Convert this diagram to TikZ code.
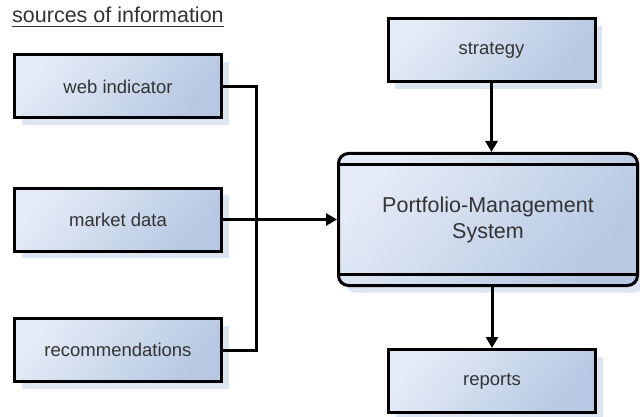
\documentclass[tikz,border=0pt]{standalone}
\usepackage{fontspec}
\setmainfont{Liberation Sans}
\usetikzlibrary{arrows.meta,shadows,calc}
\definecolor{boxlight}{HTML}{E4EBF6}
\definecolor{boxdark}{HTML}{B6C8E2}
\definecolor{shadowblue}{HTML}{DCE5F1}
\definecolor{inktext}{HTML}{333333}
\tikzset{
  sourcebox/.style={draw=black, line width=3pt, inner sep=0pt,
    minimum width=207pt, minimum height=63pt,
    left color=boxlight, right color=boxdark, shading angle=50,
    copy shadow={shadow xshift=7pt, shadow yshift=-7pt, fill=shadowblue, draw=none},
    text=inktext, font=\fontsize{18.5pt}{22pt}\selectfont},
  systembox/.style={draw=black, line width=3pt, inner sep=0pt,
    rounded corners=10pt, minimum width=299pt, minimum height=132pt,
    left color=boxlight, right color=boxdark, shading angle=50,
    copy shadow={shadow xshift=7pt, shadow yshift=-7pt, fill=shadowblue, draw=none},
    text=inktext, align=center, font=\fontsize{21.5pt}{26pt}\selectfont},
  link/.style={draw=black, line width=3pt},
  flow/.style={link, -{Triangle[length=11pt,width=12pt]}},
}
\begin{document}
\begin{tikzpicture}[x=1pt,y=-1pt]
  \useasboundingbox (0,0) rectangle (640,417);

  % heading of the source column
  \node[anchor=base west, inner sep=0pt, text=inktext,
        font=\fontsize{21.5pt}{26pt}\selectfont] (title) at (12,22.5) {sources of information};
  \draw[inktext, line width=1.4pt] ([yshift=-4pt]title.base west) -- ([yshift=-4pt]title.base east);

  % information sources
  \node[sourcebox] (web) at (118,86.5) {web indicator};
  \node[sourcebox] (market) at (118,219.5) {market data};
  \node[sourcebox] (recs) at (118,350) {recommendations};

  % strategy and reports
  \node[sourcebox] (strategy) at (491.5,50.5) {strategy};
  \node[sourcebox] (reports) at (492,381) {reports};

  % central system with header and footer strips
  \node[systembox] (pms) at (488,219.5) {Portfolio-Management\\System};
  \draw[link] ($(pms.north west)+(0,12.5)$) -- ($(pms.north east)+(0,12.5)$);
  \draw[link] ($(pms.south west)+(0,-13)$) -- ($(pms.south east)+(0,-13)$);

  % connectors
  \coordinate (bus) at (256,86.5);
  \draw[link] (web.east) -- (bus) |- (recs.east);
  \draw[flow] (market.east) -- (pms.west);
  \draw[flow] (strategy.south) -- (strategy.south |- pms.north);
  \draw[flow] (pms.south -| reports.north) -- (reports.north);
\end{tikzpicture}
\end{document}
